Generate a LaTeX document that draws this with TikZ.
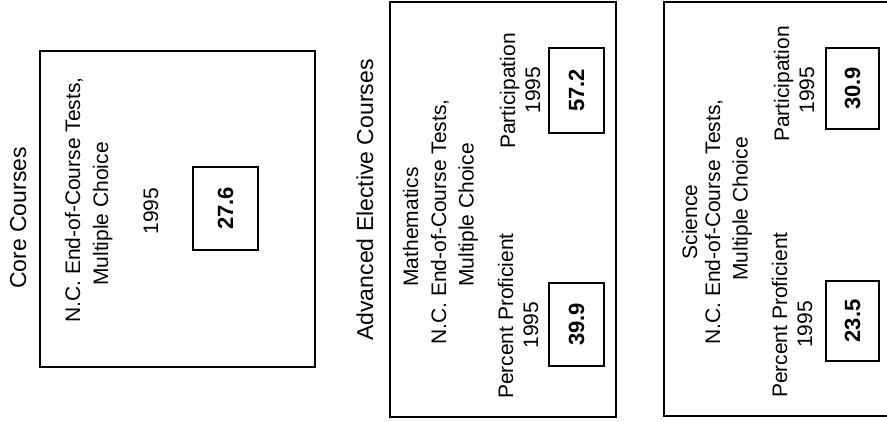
\documentclass[tikz,border=0pt]{standalone}
\usepackage{fontspec}
\setmainfont{Liberation Sans}
\begin{document}
\begin{tikzpicture}[x=1pt,y=-1pt,
  frame/.style={line width=2.3pt},
  lbl/.style={rotate=90,anchor=base,inner sep=0pt,font=\fontsize{21}{25}\selectfont},
  head/.style={rotate=90,anchor=base,inner sep=0pt,font=\fontsize{23}{27}\selectfont},
  val/.style={draw,line width=2.3pt,rotate=90,inner sep=0pt,anchor=center,font=\bfseries\fontsize{22}{26}\selectfont}]
\useasboundingbox (0,0) rectangle (887,421);

% Core courses
\draw[frame] (40,51) rectangle (315,367);
\node[head] (corehead) at (26,218) {Core Courses};
\node[lbl] (corel1) at (80,200) {N.C. End-of-Course Tests,};
\node[lbl] (corel2) at (108,214) {Multiple Choice};
\node[lbl] (coreyr) at (158,211) {1995};
\node[val,minimum width=83pt,minimum height=65pt] (coreval) at (225.5,208.5) {27.6};

% Advanced elective: mathematics
\node[head] (advhead) at (373,200) {Advanced Elective Courses};
\draw[frame] (390,2) rectangle (616,417);
\node[lbl] (mathl0) at (418,227) {Mathematics};
\node[lbl] (mathl1) at (446,222) {N.C. End-of-Course Tests,};
\node[lbl] (mathl2) at (473.5,215) {Multiple Choice};
\node[lbl] (mathpp) at (513,316) {Percent Proficient};
\node[lbl] (mathppyr) at (538,325) {1995};
\node[lbl] (mathpa) at (515,91) {Participation};
\node[lbl] (mathpayr) at (540,90) {1995};
\node[val,minimum width=83pt,minimum height=55pt] (mathppval) at (576.5,324.5) {39.9};
\node[val,minimum width=85pt,minimum height=55pt] (mathpaval) at (576.5,90.5) {57.2};

% Advanced elective: science
\draw[frame] (890,2) -- (664,2) -- (664,416) -- (890,416);
\node[lbl] (scil0) at (697,222) {Science};
\node[lbl] (scil1) at (720,222) {N.C. End-of-Course Tests,};
\node[lbl] (scil2) at (747.5,209) {Multiple Choice};
\node[lbl] (scipp) at (787,315) {Percent Proficient};
\node[lbl] (scippyr) at (812,324.5) {1995};
\node[lbl] (scipa) at (789,84) {Participation};
\node[lbl] (scipayr) at (814,90) {1995};
\node[val,minimum width=80pt,minimum height=53pt] (scippval) at (852.5,321) {23.5};
\node[val,minimum width=81pt,minimum height=53pt] (scipaval) at (852.5,88.5) {30.9};
\end{tikzpicture}
\end{document}
